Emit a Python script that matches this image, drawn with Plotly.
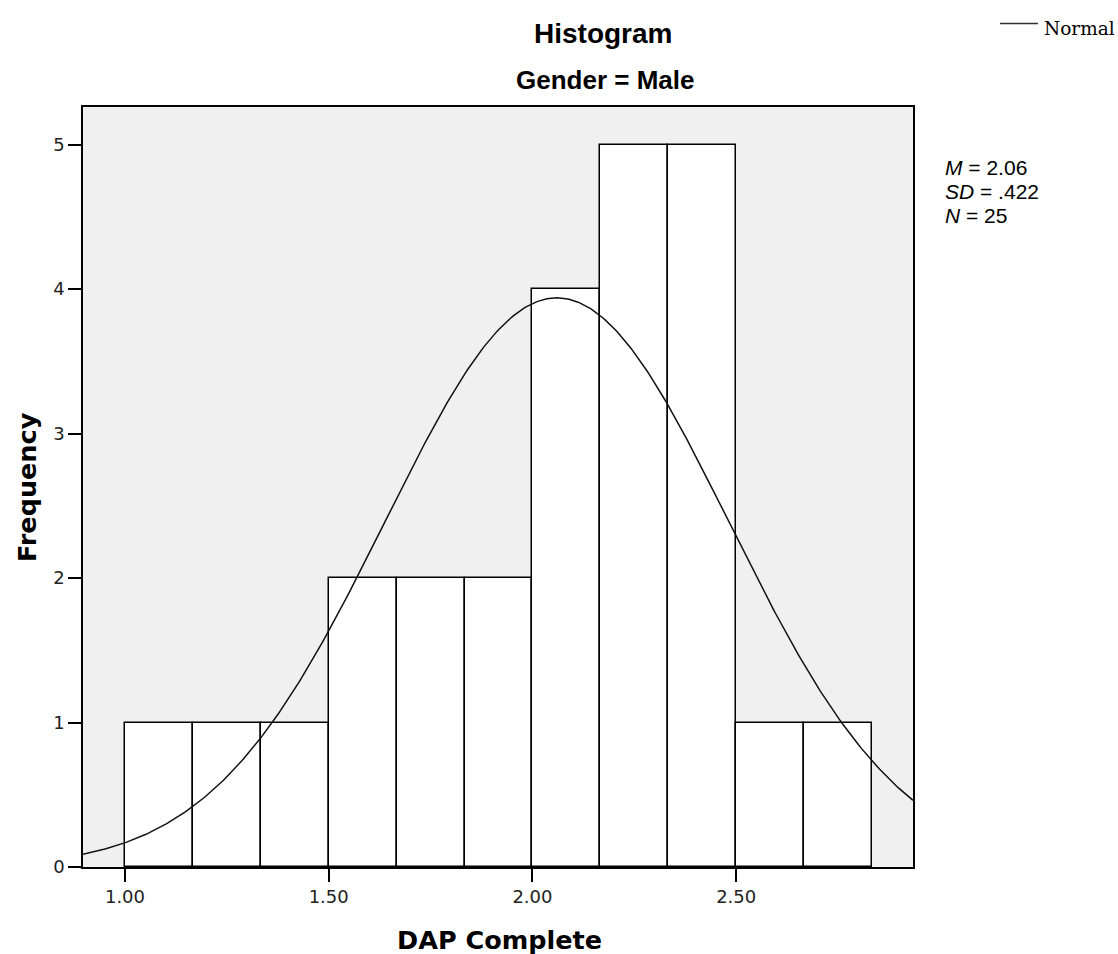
import numpy as np
import plotly.graph_objects as go

# Histogram of DAP Complete, Gender = Male
bin_start = 1.0
bin_width = 1.0 / 6.0
counts = [1, 1, 1, 2, 2, 2, 4, 5, 5, 1, 1]

# Summary statistics shown beside the plot
mean_val = 2.06
sd_val = 0.422
n_val = 25

x_tick_vals = [1.0, 1.5, 2.0, 2.5]
x_tick_text = ["1.00", "1.50", "2.00", "2.50"]
y_tick_vals = [0, 1, 2, 3, 4, 5]

x_range = [0.897, 2.934]
y_range = [0, 5.26]

centers = [bin_start + bin_width * (i + 0.5) for i in range(len(counts))]

# Normal curve scaled to frequency units
xs = np.linspace(x_range[0], x_range[1], 400)
ys = n_val * bin_width / (sd_val * np.sqrt(2 * np.pi)) * np.exp(-0.5 * ((xs - mean_val) / sd_val) ** 2)

W, H = 1118, 954
ML, MR, MT, MB = 83, 205, 107, 87
PW, PH = W - ML - MR, H - MT - MB


def px(x):
    return (x - ML) / PW


def py(y):
    return 1 - (y - MT) / PH


fig = go.Figure()
fig.add_trace(go.Bar(
    x=centers, y=counts, width=[bin_width] * len(counts),
    marker=dict(color="white", line=dict(color="black", width=1.5)),
    showlegend=False, hoverinfo="x+y",
))
fig.add_trace(go.Scatter(
    x=xs, y=ys, mode="lines", line=dict(color="#111111", width=1.5),
    showlegend=False, hoverinfo="skip",
))

fig.update_layout(
    width=W, height=H,
    margin=dict(l=ML, r=MR, t=MT, b=MB),
    paper_bgcolor="white", plot_bgcolor="#f0f0f0",
    bargap=0,
    xaxis=dict(
        range=x_range, showgrid=False, zeroline=False,
        tickvals=x_tick_vals, ticktext=x_tick_text,
        ticks="outside", ticklen=13, tickcolor="black", tickwidth=1.5,
        tickfont=dict(family="DejaVu Sans", size=18, color="#222222"),
        showline=True, linecolor="black", linewidth=1.5, mirror=True,
    ),
    yaxis=dict(
        range=y_range, showgrid=False, zeroline=False,
        tickvals=y_tick_vals,
        ticks="outside", ticklen=13, tickcolor="black", tickwidth=1.5,
        tickfont=dict(family="DejaVu Sans", size=18, color="#222222"),
        showline=True, linecolor="black", linewidth=1.5, mirror=True,
    ),
)

texts = [
    dict(text="<b>Histogram</b>", x=603, y=33, font=dict(family="Liberation Sans", size=28, color="black")),
    dict(text="<b>Gender = Male</b>", x=605, y=80, font=dict(family="Liberation Sans", size=26, color="black")),
    dict(text="<b>DAP Complete</b>", x=499, y=940, font=dict(family="DejaVu Sans", size=25.5, color="black")),
    dict(text="Normal", x=1042, y=28, xanchor="left",
         font=dict(family="DejaVu Serif", size=18.5, color="black")),
]
for a in texts:
    fig.add_annotation(
        text=a["text"], xref="paper", yref="paper",
        x=px(a["x"]), y=py(a["y"]),
        xanchor=a.get("xanchor", "center"), yanchor="middle",
        showarrow=False, font=a["font"],
    )

fig.add_annotation(
    text="<b>Frequency</b>", xref="paper", yref="paper",
    x=px(27), y=py(487), xanchor="center", yanchor="middle",
    textangle=-90, showarrow=False,
    font=dict(family="DejaVu Sans", size=25.5, color="black"),
)

stats_lines = [
    f"<i>M</i> = {mean_val:.2f}",
    f"<i>SD</i> = {str(f'{sd_val:.3f}').lstrip('0')}",
    f"<i>N</i> = {n_val}",
]
for i, line in enumerate(stats_lines):
    fig.add_annotation(
        text=line, xref="paper", yref="paper",
        x=px(943), y=py(168 + 23.5 * i),
        xanchor="left", yanchor="middle", showarrow=False,
        font=dict(family="Liberation Sans", size=21, color="black"),
    )

# Legend sample line for the normal curve
fig.add_shape(
    type="line", xref="paper", yref="paper",
    x0=px(1000), x1=px(1038), y0=py(23.5), y1=py(23.5),
    line=dict(color="#333333", width=1.5),
)

fig.write_html("out.html")
